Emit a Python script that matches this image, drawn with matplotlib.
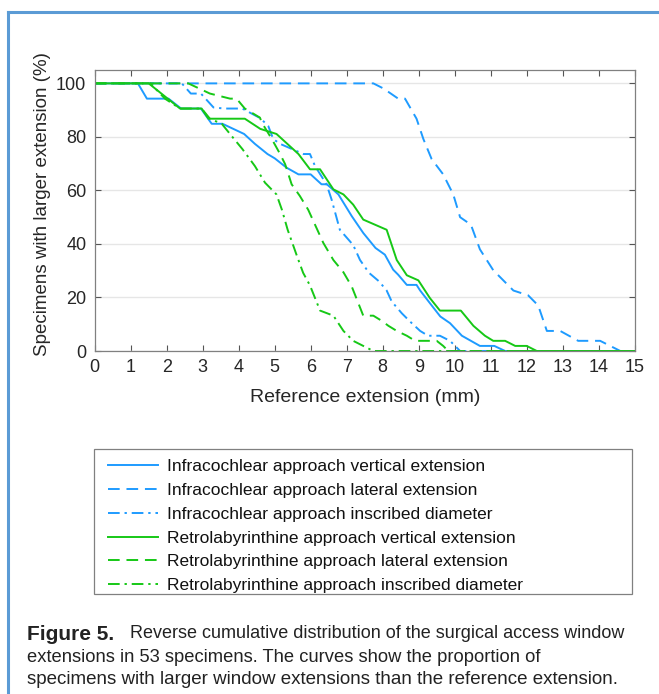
import matplotlib
matplotlib.use('Agg')
import matplotlib.pyplot as plt
from matplotlib.lines import Line2D
from matplotlib.patches import Rectangle

plt.rcParams['font.family'] = ['Liberation Sans', 'DejaVu Sans']

# reverse cumulative curves (x in mm, y in %)
ic_vert_x = [0, 1.2, 1.45, 2.05, 2.4, 2.95, 3.25, 3.55, 4.15, 4.45, 4.8, 5.0, 5.33, 5.66, 6.0,
             6.3, 6.45, 6.77, 7.14, 7.46, 7.8, 8.06, 8.29, 8.43, 8.67, 8.94, 9.04, 9.31, 9.6,
             9.87, 10.2, 10.7, 11.1, 11.4, 15]
ic_vert_y = [100, 100, 94.3, 94.3, 90.6, 90.6, 84.9, 84.9, 81.1, 77.4, 73.6, 72.0, 68.5, 66.0, 66.0,
             62.3, 62.3, 58.5, 50.4, 44.1, 38.5, 36.0, 30.4, 28.5, 24.7, 24.7, 22.6, 17.9, 12.9,
             10.4, 5.7, 1.9, 1.9, 0, 0]

ic_lat_x = [0, 7.74, 8.02, 8.43, 8.62, 8.94, 9.13, 9.36, 9.68, 9.96, 10.15, 10.45, 10.7, 11.07,
            11.63, 12.04, 12.32, 12.56, 12.93, 13.43, 14.04, 14.6, 15]
ic_lat_y = [100, 100, 98.1, 94.3, 94.3, 86.8, 79.2, 71.7, 66.0, 58.5, 50.0, 47.2, 38.0, 30.2,
            22.6, 20.8, 17.0, 7.5, 7.5, 3.8, 3.8, 0, 0]

ic_insc_x = [0, 2.42, 2.67, 2.95, 3.3, 3.6, 4.1, 4.25, 4.6, 4.82, 4.96, 5.15, 5.8, 5.98, 6.12,
             6.44, 6.58, 6.81, 7.18, 7.37, 7.62, 7.9, 8.11, 8.25, 8.53, 8.76, 9.04, 9.26, 9.59,
             9.87, 10.15, 15]
ic_insc_y = [100, 100, 96.2, 96.2, 91.0, 90.6, 90.6, 89.5, 87.0, 84.1, 79.2, 77.4, 73.6, 73.6, 69.1,
             62.3, 56.6, 45.3, 39.6, 34.0, 29.2, 26.0, 22.6, 18.5, 14.1, 11.0, 7.5, 5.7, 5.7,
             3.8, 0, 0]

rl_vert_x = [0, 1.5, 2.37, 2.97, 3.16, 4.17, 4.6, 5.05, 5.66, 5.98, 6.26, 6.63, 6.91, 7.18, 7.46,
             8.11, 8.39, 8.67, 8.99, 9.31, 9.59, 10.17, 10.52, 10.84, 11.07, 11.4, 11.68, 12.0,
             12.28, 15]
rl_vert_y = [100, 100, 90.6, 90.6, 86.8, 86.8, 83.0, 81.1, 73.6, 67.9, 67.9, 60.4, 58.5, 54.7, 49.1,
             45.3, 34.0, 28.3, 26.4, 19.8, 15.1, 15.1, 9.4, 5.7, 3.8, 3.8, 1.9, 1.9,
             0, 0]

rl_lat_x = [0, 2.6, 3.2, 3.76, 3.94, 4.17, 4.59, 4.64, 4.92, 5.15, 5.29, 5.47, 5.7, 5.93, 6.14,
            6.35, 6.63, 6.91, 7.14, 7.46, 7.74, 7.97, 8.16, 8.39, 8.67, 8.9, 9.5, 9.68, 9.82, 15]
rl_lat_y = [100, 100, 96.2, 94.3, 94.3, 90.6, 87.2, 85.4, 79.2, 73.6, 69.8, 62.3, 57.9, 52.8, 46.6,
            40.4, 34.0, 29.4, 24.1, 13.2, 13.2, 11.3, 9.4, 7.5, 5.7, 3.8, 3.8, 1.9, 0, 0]

rl_insc_x = [0, 1.55, 1.95, 2.37, 2.97, 3.2, 3.53, 3.8, 4.1, 4.45, 4.73, 5.05, 5.2, 5.36, 5.61,
             5.79, 5.98, 6.26, 6.63, 6.91, 7.18, 7.46, 7.74, 15]
rl_insc_y = [100, 100, 94.3, 90.6, 90.6, 86.8, 84.9, 80.4, 75.5, 69.1, 62.9, 58.5, 52.8, 45.3, 35.8,
             29.2, 24.5, 15.1, 13.2, 7.5, 3.8, 1.9, 0, 0]

labels = ['Infracochlear approach vertical extension',
          'Infracochlear approach lateral extension',
          'Infracochlear approach inscribed diameter',
          'Retrolabyrinthine approach vertical extension',
          'Retrolabyrinthine approach lateral extension',
          'Retrolabyrinthine approach inscribed diameter']

caption = ['Reverse cumulative distribution of the surgical access window',
           'extensions in 53 specimens. The curves show the proportion of',
           'specimens with larger window extensions than the reference extension.']

blue = '#1e9bff'
green = '#16c816'
dash = (0, (6, 3.5))
dashdot = (0, (6, 2.5, 1.2, 2.5))
txt = '#262626'

W, H = 659, 694
fig = plt.figure(figsize=(W / 100, H / 100), dpi=100)
ax = fig.add_axes([94.7 / W, 1 - 351 / H, 540 / W, 281 / H])

series = [(ic_vert_x, ic_vert_y, blue, '-'),
          (ic_lat_x, ic_lat_y, blue, dash),
          (ic_insc_x, ic_insc_y, blue, dashdot),
          (rl_vert_x, rl_vert_y, green, '-'),
          (rl_lat_x, rl_lat_y, green, dash),
          (rl_insc_x, rl_insc_y, green, dashdot)]
handles = []
for (x, y, c, ls), lab in zip(series, labels):
    h, = ax.plot(x, y, color=c, linestyle=ls, lw=1.4, label=lab)
    handles.append(h)

ax.set_xlim(0, 15)
ax.set_ylim(0, 105)
ax.set_xticks(range(0, 16))
ax.set_yticks(range(0, 101, 20))
ax.yaxis.grid(True, color='#e6e6e6', lw=1)
ax.set_axisbelow(True)
ax.tick_params(direction='in', top=True, right=True, length=4, width=0.8,
               color='#555555', labelcolor=txt, labelsize=13)
ax.tick_params(axis='x', pad=6)
ax.tick_params(axis='y', pad=6)
for s in ax.spines.values():
    s.set_color('#808080')
    s.set_linewidth(0.9)
ax.set_xlabel('Reference extension (mm)', fontsize=14, color=txt, va='center')
ax.set_ylabel('Specimens with larger extension (%)', fontsize=13.5, color=txt, va='center')
ax.xaxis.set_label_coords(0.5, (351 - 397) / 281)
ax.yaxis.set_label_coords((42 - 94.7) / 540, (351 - 204) / 281)

# legend: separate frame, entries placed inside it
fig.add_artist(Rectangle((94 / W, 1 - 594 / H), 538 / W, 145 / H, transform=fig.transFigure,
                         facecolor='white', edgecolor='#808080', lw=0.9))
leg = fig.legend(handles=handles, loc='upper left', bbox_to_anchor=(108 / W, 1 - 459 / H),
                 borderaxespad=0, borderpad=0, fontsize=12.5, handlelength=2.88,
                 handletextpad=0.52, labelspacing=0.5, frameon=False)
for t in leg.get_texts():
    t.set_color('#111111')

# blue frame around the figure panel
fig.add_artist(Line2D([8 / W, 8 / W], [0, 1 - 12 / H], color='#5b9bd5', lw=2.2,
                      transform=fig.transFigure))
fig.add_artist(Line2D([8 / W, 1], [1 - 12 / H, 1 - 12 / H], color='#5b9bd5', lw=2.2,
                      transform=fig.transFigure))

# caption
ys = [634, 657, 680]
t = fig.text(27 / W, 1 - ys[0] / H, 'Figure 5.', fontsize=15, fontweight='bold',
             family=['Liberation Sans Narrow', 'Liberation Sans'], va='center', color='#222222')
fig.canvas.draw()
bb = t.get_window_extent()
fig.text((bb.x1 + 16) / W, 1 - ys[0] / H, caption[0], fontsize=13, va='center', color='#222222')
fig.text(27 / W, 1 - ys[1] / H, caption[1], fontsize=13.2, va='center', color='#222222')
fig.text(27 / W, 1 - ys[2] / H, caption[2], fontsize=13.5, va='center', color='#222222')

fig.savefig('out.png', dpi=100)
